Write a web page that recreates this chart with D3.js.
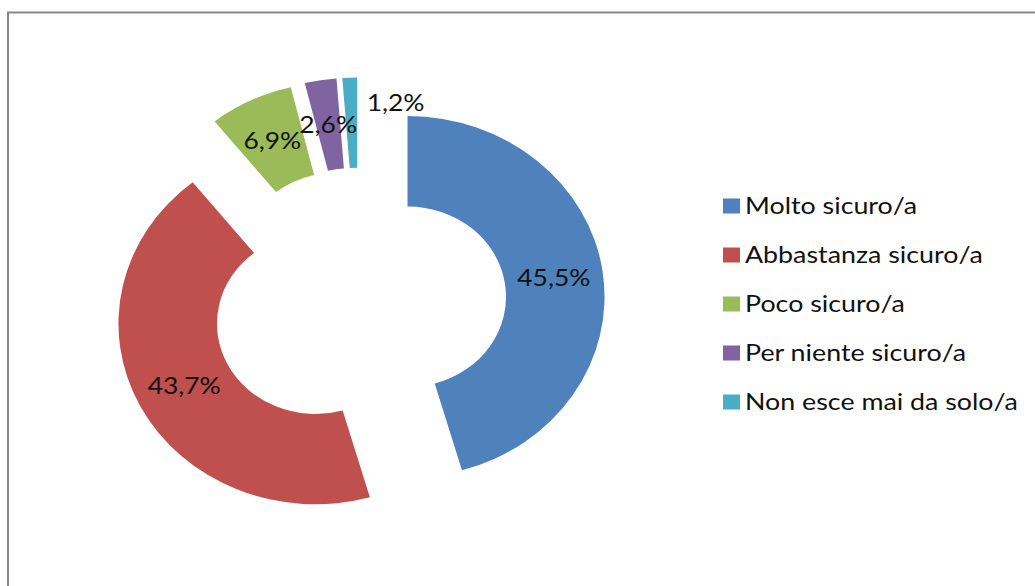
<!DOCTYPE html>
<html>
<head>
<meta charset="utf-8">
<script src="https://cdn.jsdelivr.net/npm/d3@7"></script>
<style>
  html, body { margin: 0; padding: 0; background: #fff; }
  svg { display: block; }
  text { font-family: Lato, "Open Sans", "Liberation Sans", sans-serif; fill: #111; }
</style>
</head>
<body>
<svg id="chart" width="1035" height="586"></svg>
<script>
// ---- data ----
const categories = ["Molto sicuro/a", "Abbastanza sicuro/a", "Poco sicuro/a", "Per niente sicuro/a", "Non esce mai da solo/a"];
const values = [45.5, 43.7, 6.9, 2.6, 1.2];
const colors = ["#4F81BD", "#C0504D", "#9BBB59", "#8064A2", "#4BACC6"];

// ---- layout / style ----
const W = 1035, H = 586;
const cx = 359, cy = 303;          // donut centre
const sy = 0.917;                  // vertical squash of the picture
const sx = 1.1;                    // horizontal stretch of the text
const outerR = 197, innerR = 98.5;
const explode = 49;                // explosion distance of every slice
const labelNudge = [[0,0],[0,0],[0,0],[0,0],[44,-20]];

const svg = d3.select("#chart");

// frame
svg.append("path")
  .attr("d", `M8,${H} V12.5 H${W}`)
  .attr("fill", "none")
  .attr("stroke", "#888")
  .attr("stroke-width", 2);

const fmt = v => v.toFixed(1).replace(".", ",") + "%";

const pie = d3.pie().sort(null).value(d => d);
const arcs = pie(values);
const arc = d3.arc().innerRadius(innerR).outerRadius(outerR);

const slices = svg.append("g");
arcs.forEach((a, i) => {
  const mid = (a.startAngle + a.endAngle) / 2;
  const ox = explode * Math.sin(mid);
  const oy = -explode * Math.cos(mid) * sy;
  const g = slices.append("g")
    .attr("transform", `translate(${cx + ox},${cy + oy})`);
  g.append("g")
    .attr("transform", `scale(1,${sy})`)
    .append("path")
    .attr("d", arc(a))
    .attr("fill", colors[i]);
});
arcs.forEach((a, i) => {
  const mid = (a.startAngle + a.endAngle) / 2;
  const ox = explode * Math.sin(mid);
  const oy = -explode * Math.cos(mid) * sy;
  const c = arc.centroid(a);
  const x = cx + ox + c[0] + labelNudge[i][0];
  const y = cy + oy + c[1] * sy + labelNudge[i][1];
  svg.append("text")
    .attr("transform", `translate(${x},${y}) scale(${sx},1)`)
    .attr("text-anchor", "middle")
    .attr("dy", "0.35em")
    .attr("font-size", 24)
    .text(fmt(values[i]));
});

// legend
const ly = d3.scalePoint().domain(categories).range([206, 402]);
const legend = svg.append("g");
categories.forEach((cat, i) => {
  const y = ly(cat);
  legend.append("rect")
    .attr("x", 723).attr("y", y - 7.5)
    .attr("width", 17).attr("height", 15)
    .attr("fill", colors[i]);
  legend.append("text")
    .attr("transform", `translate(745,${y}) scale(1.117,1)`)
    .attr("dy", "0.35em")
    .attr("font-size", 24)
    .text(cat);
});
</script>
</body>
</html>
